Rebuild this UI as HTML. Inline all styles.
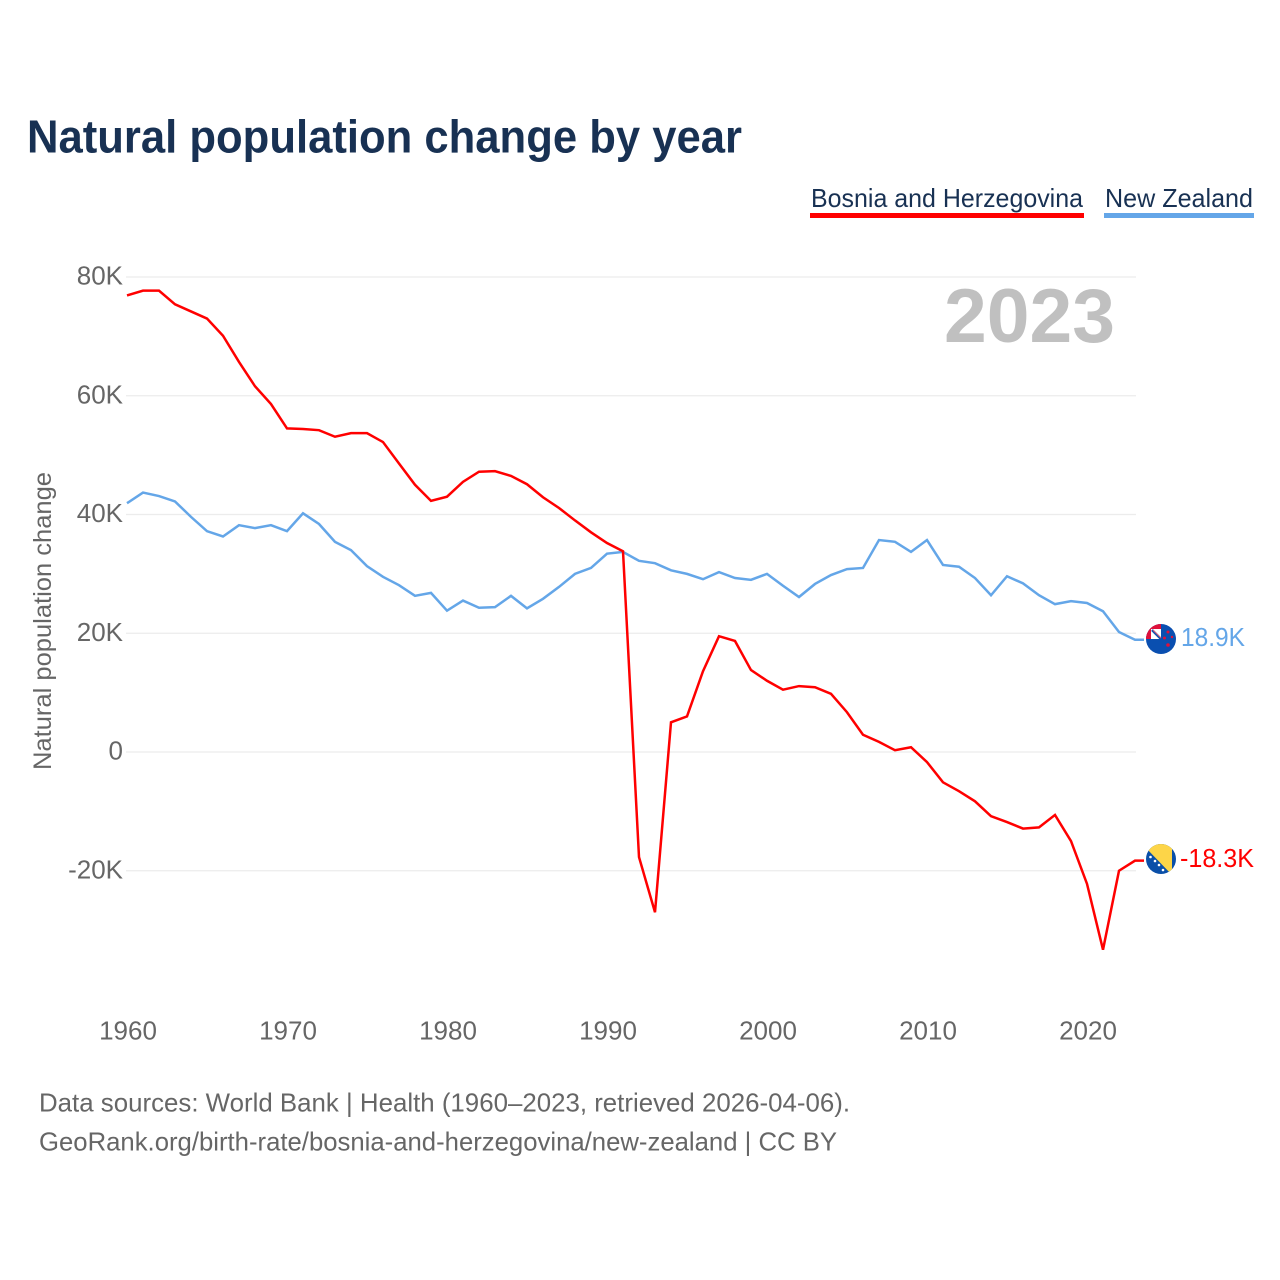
<!DOCTYPE html>
<html lang="en">
<head>
<meta charset="utf-8">
<title>Natural population change by year</title>
<style>
html,body{margin:0;padding:0;background:#fff;}
svg{display:block;font-family:"Liberation Sans",sans-serif;}
</style>
</head>
<body>
<svg id="chart" xmlns="http://www.w3.org/2000/svg" width="1280" height="1280" viewBox="0 0 1280 1280">
  <defs>
    <clipPath id="clip-nz"><circle cx="1161" cy="639" r="15"/></clipPath>
    <clipPath id="clip-ba"><circle cx="1161" cy="859" r="15"/></clipPath>
  </defs>
  <rect width="1280" height="1280" fill="#fff"/>
  <text x="27" y="152.500" font-size="46" font-weight="700" fill="#183153" textLength="715" lengthAdjust="spacingAndGlyphs">Natural population change by year</text>

  <g>
    <g>
      <text x="811" y="207" font-size="26" fill="#183153" textLength="272" lengthAdjust="spacingAndGlyphs">Bosnia and Herzegovina</text>
      <rect x="810" y="213" width="274" height="5" fill="#ff0000"/>
    </g>
    <g>
      <text x="1105" y="207" font-size="26" fill="#183153" textLength="148" lengthAdjust="spacingAndGlyphs">New Zealand</text>
      <rect x="1104" y="213" width="150" height="5" fill="#64a6e8"/>
    </g>
  </g>

  <g id="grid"></g>
  <g id="y-axis"></g>
  <g id="x-axis"></g>
  <text transform="translate(51,770) rotate(-90)" font-size="25" fill="#666666" textLength="298" lengthAdjust="spacingAndGlyphs">Natural population change</text>
  <text x="944" y="342" font-size="76" font-weight="700" fill="#c0c0c0" textLength="171" lengthAdjust="spacingAndGlyphs">2023</text>

  <g id="series"></g>

  <g clip-path="url(#clip-nz)">
    <rect x="1146" y="624" width="30" height="30" fill="#0a4fb0"/>
    <rect x="1146" y="624" width="15" height="15" fill="#e0103a"/>
    <rect x="1151" y="629" width="10" height="10" fill="#ffffff"/>
    <path d="M1152 630 L1161 639" stroke="#0a4fb0" stroke-width="2.500"/>
    <path d="M1153 630 L1161 638" stroke="#d8607a" stroke-width="1"/>
    <circle cx="1168" cy="632" r="1.500" fill="#e0103a"/>
    <circle cx="1172" cy="637" r="1.200" fill="#e0103a"/>
    <circle cx="1164.500" cy="638" r="1.500" fill="#e0103a"/>
    <circle cx="1168" cy="645" r="1.800" fill="#e0103a"/>
  </g>
  <text x="1181" y="646" font-size="26" fill="#64a6e8" textLength="64" lengthAdjust="spacingAndGlyphs">18.9K</text>

  <g clip-path="url(#clip-ba)">
    <rect x="1146" y="844" width="30" height="30" fill="#0a4fa8"/>
    <path d="M1146 848 L1146 844 L1172 844 L1172 875 Z" fill="#fdd548"/>
    <circle cx="1150.500" cy="857" r="1.300" fill="#fff"/>
    <circle cx="1155" cy="861" r="1.300" fill="#fff"/>
    <circle cx="1159" cy="865" r="1.300" fill="#fff"/>
    <circle cx="1163" cy="870" r="1.300" fill="#fff"/>
  </g>
  <text x="1180" y="867" font-size="26" fill="#ff0000" textLength="74" lengthAdjust="spacingAndGlyphs">-18.3K</text>

  <text x="39" y="1111.500" font-size="26" fill="#666666" textLength="811" lengthAdjust="spacingAndGlyphs">Data sources: World Bank | Health (1960–2023, retrieved 2026-04-06).</text>
  <text x="39" y="1150.500" font-size="26" fill="#666666" textLength="798" lengthAdjust="spacingAndGlyphs">GeoRank.org/birth-rate/bosnia-and-herzegovina/new-zealand | CC BY</text>
</svg>
<script>
var startYear = 1960;
var bosniaValues = [76.9,77.7,77.7,75.4,74.2,73,70.1,65.7,61.6,58.6,54.5,54.4,54.2,53.1,53.7,53.7,52.2,48.6,45,42.3,43,45.5,47.2,47.3,46.5,45.1,42.9,41.1,39,37,35.2,33.8,-17.7,-27,5,6,13.6,19.5,18.7,13.8,12,10.5,11.1,10.9,9.8,6.7,2.9,1.7,0.3,0.8,-1.7,-5.1,-6.6,-8.3,-10.8,-11.8,-12.9,-12.7,-10.6,-15,-22.2,-33.3,-20,-18.3];
var newZealandValues = [41.9,43.7,43.1,42.2,39.6,37.2,36.3,38.2,37.7,38.2,37.2,40.2,38.4,35.4,34,31.3,29.5,28.1,26.3,26.8,23.8,25.5,24.3,24.4,26.3,24.2,25.8,27.8,30,31,33.4,33.7,32.2,31.8,30.6,30,29.1,30.3,29.3,29,30,28,26.1,28.3,29.8,30.8,31,35.7,35.4,33.7,35.7,31.5,31.2,29.3,26.4,29.6,28.4,26.4,24.9,25.4,25.1,23.7,20.2,18.9];
var yTickValues = [80,60,40,20,0,-20];
var yTickLabels = ["80K","60K","40K","20K","0","-20K"];
var xTickYears = [1960,1970,1980,1990,2000,2010,2020];

var SVG_NS = "http://www.w3.org/2000/svg";
function xScale(year) { return 127 + (year - 1960) * 16; }
function yScale(value) { return 752 - value * 5.9375; }

var grid = document.getElementById("grid");
var yAxis = document.getElementById("y-axis");
var xAxis = document.getElementById("x-axis");
var series = document.getElementById("series");

yTickValues.forEach(function (v, i) {
  var line = document.createElementNS(SVG_NS, "line");
  
  
  line.setAttribute("x1", 126);
  line.setAttribute("x2", 1136);
  line.setAttribute("y1", yScale(v));
  line.setAttribute("y2", yScale(v));
  line.setAttribute("stroke", "#ececec");
  line.setAttribute("stroke-width", 1.3);
  grid.appendChild(line);

  var label = document.createElementNS(SVG_NS, "text");
  
  
  label.setAttribute("x", 123);
  label.setAttribute("y", yScale(v) + 7.5);
  label.setAttribute("text-anchor", "end");
  label.setAttribute("font-size", 26);
  label.setAttribute("fill", "#666666");
  label.textContent = yTickLabels[i];
  yAxis.appendChild(label);
});

xTickYears.forEach(function (year) {
  var label = document.createElementNS(SVG_NS, "text");
  
  
  label.setAttribute("x", xScale(year) + 1);
  label.setAttribute("y", 1039.5);
  label.setAttribute("text-anchor", "middle");
  label.setAttribute("font-size", 26);
  label.setAttribute("fill", "#666666");
  label.textContent = String(year);
  xAxis.appendChild(label);
});

function pathFor(values) {
  var lastIndex = values.length - 1;
  var d = values.map(function (v, i) {
    return (i ? "L" : "M") + xScale(startYear + i) + " " + yScale(v).toFixed(2);
  }).join(" ");
  return d + " L" + (xScale(startYear + lastIndex) + 9) + " " + yScale(values[lastIndex]).toFixed(2);
}

var newZealandLine = document.createElementNS(SVG_NS, "path");


newZealandLine.setAttribute("d", pathFor(newZealandValues));
newZealandLine.setAttribute("fill", "none");
newZealandLine.setAttribute("stroke", "#64a6e8");
newZealandLine.setAttribute("stroke-width", 2.5);
series.appendChild(newZealandLine);

var bosniaLine = document.createElementNS(SVG_NS, "path");


bosniaLine.setAttribute("d", pathFor(bosniaValues));
bosniaLine.setAttribute("fill", "none");
bosniaLine.setAttribute("stroke", "#ff0000");
bosniaLine.setAttribute("stroke-width", 2.5);
series.appendChild(bosniaLine);
</script>
</body>
</html>
